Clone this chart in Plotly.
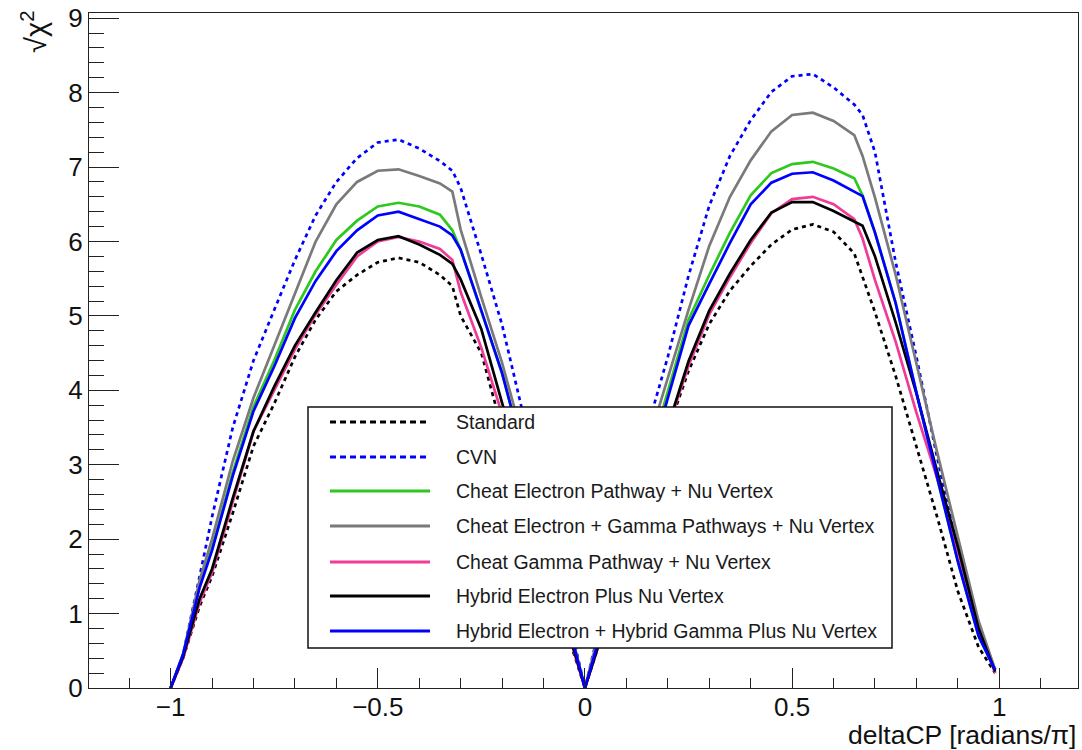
import plotly.graph_objects as go

# deltaCP grid (units of pi)
delta_cp = [-1.0, -0.97, -0.93, -0.9, -0.85, -0.8, -0.75, -0.7, -0.65, -0.6, -0.55,
            -0.5, -0.45, -0.4, -0.35, -0.32, -0.3, -0.25, -0.2, -0.15, -0.1, -0.05,
            0.0, 0.05, 0.1, 0.15, 0.2, 0.25, 0.3, 0.35, 0.4, 0.45, 0.5, 0.55, 0.6,
            0.65, 0.67, 0.7, 0.75, 0.8, 0.85, 0.9, 0.95, 0.99]

# sqrt(chi^2) sensitivity for each selection
standard = [0.0, 0.4, 1.1, 1.5, 2.35, 3.25, 3.82, 4.45, 4.95, 5.33, 5.55,
            5.72, 5.78, 5.72, 5.55, 5.4, 5.0, 4.5, 3.48, 2.6, 1.72, 0.86,
            0.0, 0.87, 1.73, 2.6, 3.46, 4.26, 4.89, 5.34, 5.67, 5.96, 6.16, 6.23, 6.13,
            5.84, 5.53, 5.05, 4.19, 3.26, 2.3, 1.3, 0.55, 0.2]
cvn = [0.0, 0.45, 1.5, 2.3, 3.5, 4.4, 5.08, 5.75, 6.35, 6.8, 7.12,
       7.33, 7.37, 7.25, 7.08, 6.95, 6.72, 5.82, 4.88, 3.7, 2.45, 1.2,
       0.0, 1.16, 2.32, 3.48, 4.45, 5.54, 6.48, 7.15, 7.63, 8.01, 8.22, 8.25, 8.07,
       7.84, 7.7, 7.2, 5.72, 4.45, 3.1, 1.85, 0.8, 0.25]
cheat_electron = [0.0, 0.45, 1.37, 1.88, 2.9, 3.78, 4.4, 5.08, 5.6, 6.02, 6.28,
                  6.47, 6.52, 6.47, 6.36, 6.15, 5.89, 5.07, 4.23, 3.18, 2.12, 1.06,
                  0.0, 1.02, 2.04, 3.02, 3.98, 4.95, 5.55, 6.12, 6.62, 6.92, 7.04, 7.07, 6.98,
                  6.85, 6.62, 6.12, 5.17, 3.97, 2.82, 1.7, 0.7, 0.24]
cheat_electron_gamma = [0.0, 0.45, 1.45, 2.0, 3.05, 3.9, 4.6, 5.3, 6.0, 6.5, 6.8,
                        6.95, 6.97, 6.88, 6.78, 6.67, 6.16, 5.25, 4.37, 3.35, 2.25, 1.12,
                        0.0, 1.1, 2.2, 3.25, 4.17, 5.08, 5.94, 6.6, 7.09, 7.48, 7.7, 7.73, 7.62,
                        7.43, 7.15, 6.59, 5.55, 4.36, 3.17, 2.03, 0.9, 0.25]
cheat_gamma = [0.0, 0.4, 1.15, 1.55, 2.5, 3.45, 4.0, 4.55, 5.02, 5.42, 5.8,
               6.0, 6.06, 6.0, 5.9, 5.75, 5.32, 4.57, 3.68, 2.76, 1.84, 0.92,
               0.0, 0.87, 1.74, 2.62, 3.5, 4.33, 5.02, 5.52, 5.98, 6.38, 6.57, 6.6, 6.5,
               6.3, 6.04, 5.48, 4.65, 3.7, 2.82, 1.85, 0.8, 0.2]
hybrid_electron = [0.0, 0.42, 1.2, 1.6, 2.55, 3.45, 4.05, 4.6, 5.05, 5.48, 5.85,
                   6.02, 6.07, 5.96, 5.82, 5.7, 5.49, 4.82, 3.83, 2.87, 1.92, 0.96,
                   0.0, 0.88, 1.76, 2.65, 3.53, 4.39, 5.07, 5.57, 6.02, 6.39, 6.53, 6.53, 6.41,
                   6.26, 6.21, 5.8, 4.91, 3.96, 2.91, 1.9, 0.8, 0.22]
hybrid_electron_gamma = [0.0, 0.45, 1.35, 1.85, 2.85, 3.72, 4.32, 4.97, 5.47, 5.87, 6.15,
                         6.35, 6.4, 6.3, 6.2, 6.08, 5.89, 5.07, 4.23, 3.18, 2.12, 1.06,
                         0.0, 0.97, 1.94, 2.92, 3.89, 4.87, 5.43, 5.98, 6.5, 6.79, 6.91, 6.93, 6.82,
                         6.67, 6.61, 6.12, 5.17, 3.97, 2.82, 1.7, 0.7, 0.24]

series = [
    ("Standard", standard, "#000000", "4px,4px"),
    ("CVN", cvn, "#0000ff", "4px,4px"),
    ("Cheat Electron Pathway + Nu Vertex", cheat_electron, "#2ec81e", "solid"),
    ("Cheat Electron + Gamma Pathways + Nu Vertex", cheat_electron_gamma, "#7a7a7a", "solid"),
    ("Cheat Gamma Pathway + Nu Vertex", cheat_gamma, "#f03c96", "solid"),
    ("Hybrid Electron Plus Nu Vertex", hybrid_electron, "#000000", "solid"),
    ("Hybrid Electron + Hybrid Gamma Plus Nu Vertex", hybrid_electron_gamma, "#0000ff", "solid"),
]

FONT = "Liberation Sans, Arial, Helvetica, sans-serif"
W, H = 1082, 750
L, R, T, B = 89, 1078, 13, 688


def px_x(p):
    return (p - L) / (R - L)


def px_y(p):
    return (B - p) / (B - T)


fig = go.Figure()
for name, vals, color, dash in series:
    fig.add_trace(go.Scatter(
        x=delta_cp, y=vals, mode="lines", name=name,
        line=dict(color=color, width=2.7, dash=dash),
        showlegend=False,
    ))

axis_common = dict(
    showgrid=False, zeroline=False, showline=True, linecolor="#222",
    linewidth=1.3, mirror=True, ticks="inside", tickcolor="#222",
    tickwidth=1.3, tickfont=dict(family=FONT, size=26, color="#111"),
)
fig.update_xaxes(range=[-1.197, 1.19], dtick=0.5, tick0=0, ticklen=20,
                 ticklabelstandoff=-4,
                 minor=dict(dtick=0.1, ticklen=10, ticks="inside", tickcolor="#222", tickwidth=1.3),
                 **axis_common)
fig.update_yaxes(range=[0, 9.07], dtick=1, tick0=0, ticklen=30,
                 minor=dict(dtick=0.2, ticklen=15, ticks="inside", tickcolor="#222", tickwidth=1.3),
                 **axis_common)

shapes = []
annotations = []

# legend box
shapes.append(dict(type="rect", xref="paper", yref="paper",
                   x0=px_x(308), x1=px_x(892), y0=px_y(648), y1=px_y(407),
                   fillcolor="white", line=dict(color="#111", width=1.5), layer="above"))
legend_rows = [422, 457, 491, 526, 562, 596, 631]
for (name, vals, color, dash), yrow in zip(series, legend_rows):
    sdash = "6px,4px" if dash != "solid" else "solid"
    shapes.append(dict(type="line", xref="paper", yref="paper",
                       x0=px_x(330), x1=px_x(430), y0=px_y(yrow), y1=px_y(yrow),
                       line=dict(color=color, width=3, dash=sdash), layer="above"))
    annotations.append(dict(text=name, xref="paper", yref="paper",
                            x=px_x(454), y=px_y(yrow), xanchor="left", yanchor="middle",
                            showarrow=False, font=dict(family=FONT, size=19.5, color="#1a1a1a")))

# axis titles
annotations.append(dict(text="deltaCP [radians/\u03c0]", xref="paper", yref="paper",
                        x=px_x(1078), y=px_y(735), xanchor="right", yanchor="middle",
                        showarrow=False, font=dict(family=FONT, size=26.5, color="#111")))
annotations.append(dict(text="\u221a\u03c7<sup>2</sup>", xref="paper", yref="paper",
                        x=px_x(34), y=px_y(32), xanchor="center", yanchor="middle",
                        textangle=-90, showarrow=False,
                        font=dict(family=FONT, size=29, color="#111")))

fig.update_layout(
    width=W, height=H,
    margin=dict(l=L, r=W - R, t=T, b=H - B, pad=0),
    paper_bgcolor="white", plot_bgcolor="white",
    shapes=shapes, annotations=annotations,
    showlegend=False,
)

fig.write_html("out.html", include_plotlyjs=True, full_html=True,
               config=dict(displayModeBar=False))
